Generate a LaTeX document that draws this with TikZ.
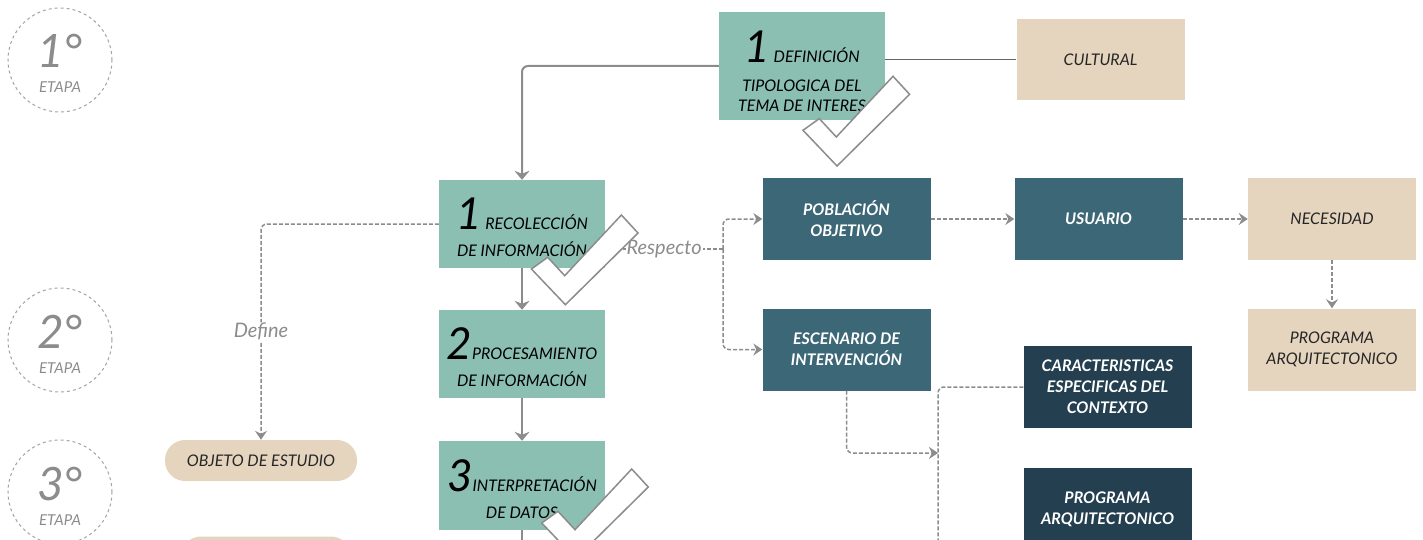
\documentclass[tikz,border=0pt]{standalone}
\usepackage{fontspec}
\setmainfont{Lato}
\usetikzlibrary{arrows.meta}

\definecolor{verde}{HTML}{8BBFB1}
\definecolor{petroleo}{HTML}{3B6776}
\definecolor{marino}{HTML}{233F50}
\definecolor{arena}{HTML}{E5D5BE}
\definecolor{linea}{HTML}{8C8C8C}
\def\grande#1{{\fontsize{44}{44}\selectfont\rule{0pt}{39pt}#1}}
\def\etapanum#1{{\fontsize{46}{46}\selectfont\rule{0pt}{41pt}#1}}
% check mark, given by its lower vertex
\newcommand{\visto}[1]{\draw[draw=linea, fill=white, line width=1.5pt, line join=miter]
  (#1) -- ++(-34,-35.7) -- ++(16.3,-11.7) -- ++(17,18.4) -- ++(56.7,-60.7) -- ++(16.6,18) -- cycle;}

\begin{document}
\begin{tikzpicture}[x=1pt,y=-1pt,
  caja/.style={rectangle, minimum width=168pt, minimum height=82pt, inner sep=2pt, align=center,
    font=\itshape\fontsize{16}{21}\selectfont},
  claro/.style={caja, fill=verde, minimum width=166pt, minimum height=88pt, text=black},
  oscuro/.style={caja, fill=petroleo, text=white, font=\bfseries\itshape\fontsize{16}{21}\selectfont},
  noche/.style={oscuro, fill=marino},
  beige/.style={caja, fill=arena, text=black!85},
  pildora/.style={fill=arena, rounded corners=20pt, minimum width=192pt, minimum height=41pt,
    font=\itshape\fontsize{16}{18}\selectfont, text=black!85},
  etapa/.style={circle, draw=linea!80, dashed, line width=1pt, minimum size=104pt, inner sep=0pt,
    align=center, text=black!45, font=\itshape\fontsize{15}{16}\selectfont},
  etiqueta/.style={fill=white, text=linea, inner sep=1pt, font=\itshape\fontsize{20}{20}\selectfont},
  flecha/.style={draw=linea, line width=2pt, -{Stealth[width=15pt,length=9pt,inset=3pt]}},
  guion/.style={draw=linea, line width=1.5pt, dash pattern=on 4pt off 2pt},
  guionf/.style={guion, -{Stealth[width=12pt,length=9pt,inset=3pt]}}]
\useasboundingbox (0,0) rectangle (1423,540);
\clip (0,0) rectangle (1423,540);

% etapas
\node[etapa] (e1) at (60,60) {\etapanum{1°}\\[9pt]ETAPA};
\node[etapa] (e2) at (60,340) {\etapanum{2°}\\[9pt]ETAPA};
\node[etapa] (e3) at (60,492) {\etapanum{3°}\\[9pt]ETAPA};

% pasos
\node[claro, minimum height=108pt] (def) at (802,66)
  {\rule{0pt}{42pt}\grande{1}\ DEFINICIÓN\\[8pt]TIPOLOGICA DEL\\[-1pt]TEMA DE INTERES};
\node[claro] (rec) at (522,224) {\grande{1}\ RECOLECCIÓN\\[6pt]DE INFORMACIÓN};
\node[claro] (proc) at (522,354) {\grande{2}PROCESAMIENTO\\[6pt]DE INFORMACIÓN};
\node[claro, minimum height=89pt] (int) at (522,485.5) {\grande{3}INTERPRETACIÓN\\[6pt]DE DATOS};

\node[beige, minimum height=81pt] (cul) at (1100.5,59.5) {CULTURAL};
\node[oscuro] (pob) at (846.5,219) {POBLACIÓN\\OBJETIVO};
\node[oscuro] (usu) at (1098.5,219) {USUARIO};
\node[beige] (nec) at (1332,219) {NECESIDAD};
\node[beige] (prog) at (1332,349.5) {PROGRAMA\\ARQUITECTONICO};
\node[oscuro] (esc) at (846.5,349.5) {ESCENARIO DE\\INTERVENCIÓN};
\node[noche] (car) at (1107.5,387) {CARACTERISTICAS\\ESPECIFICAS DEL\\CONTEXTO};
\node[noche] (prog2) at (1107.5,509) {PROGRAMA\\ARQUITECTONICO};

\node[pildora] (obj) at (261,460.5) {OBJETO DE ESTUDIO};
\node[pildora, minimum width=170pt] (obj2) at (266,557) {};

% conexiones
\draw[draw=black!60, line width=1.5pt] (def.east |- cul.west) -- (cul.west);
\draw[flecha, rounded corners=6pt] (def.west) -| (rec.north);
\draw[flecha] (rec.south) -- (proc.north);
\draw[flecha] (proc.south) -- (int.north);
\draw[draw=linea, line width=2pt] (int.south) -- ++(0,30);

\draw[guionf, rounded corners=6pt] (rec.west) -| node[pos=0.75, etiqueta] {Define} (obj.north);

\coordinate (resp) at (723,249);
\draw[guion] ([yshift=-25pt]rec.east) -- node[etiqueta, pos=0.5] {Respecto} (resp);
\draw[guionf, rounded corners=6pt] (resp) |- (pob.west);
\draw[guionf, rounded corners=6pt] (resp) |- (esc.west);

\draw[guionf] (pob.east) -- (usu.west);
\draw[guionf] (usu.east) -- (nec.west);
\draw[guionf] (nec.south) -- (prog.north);

\coordinate (llega) at (938,453);
\coordinate (baja) at (938,560);
\draw[guionf, rounded corners=6pt] (esc.south) |- (llega);
\draw[guion, rounded corners=6pt] (car.west) -| (baja);

% vistos
\visto{837,166}
\visto{565.4,304.7}
\visto{575.7,558.7}
\end{tikzpicture}
\end{document}
